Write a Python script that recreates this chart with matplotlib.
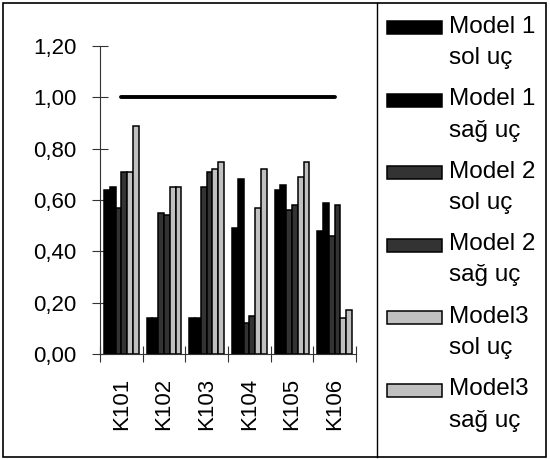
import matplotlib
matplotlib.use("Agg")
import matplotlib.pyplot as plt
from matplotlib.patches import Rectangle
from matplotlib.lines import Line2D
import numpy as np

plt.rcParams['font.family'] = ['Liberation Sans', 'DejaVu Sans']

categories = ['K101', 'K102', 'K103', 'K104', 'K105', 'K106']
series_labels = ['Model 1\nsol uç', 'Model 1\nsağ uç', 'Model 2\nsol uç',
                 'Model 2\nsağ uç', 'Model3\nsol uç', 'Model3\nsağ uç']
m1_sol = [0.64, 0.14, 0.14, 0.49, 0.64, 0.48]
m1_sag = [0.65, 0.14, 0.14, 0.68, 0.66, 0.59]
m2_sol = [0.57, 0.55, 0.65, 0.12, 0.56, 0.46]
m2_sag = [0.71, 0.54, 0.71, 0.15, 0.58, 0.58]
m3_sol = [0.71, 0.65, 0.72, 0.57, 0.69, 0.14]
m3_sag = [0.89, 0.65, 0.75, 0.72, 0.75, 0.17]
reference = [1.00, 1.00, 1.00, 1.00, 1.00, 1.00]
yticks = [0.0, 0.2, 0.4, 0.6, 0.8, 1.0, 1.2]
ytick_labels = ['0,00', '0,20', '0,40', '0,60', '0,80', '1,00', '1,20']

series = [m1_sol, m1_sag, m2_sol, m2_sag, m3_sol, m3_sag]
colors = ['#000000', '#000000', '#333333', '#333333', '#c0c0c0', '#c0c0c0']

W, H = 550, 459
fig = plt.figure(figsize=(W / 100, H / 100), dpi=100)
ax = fig.add_axes([100 / W, 1 - 354 / H, 256 / W, 308 / H])

x = np.arange(len(categories))
n = len(series)
bw = 0.82 / n
for i, (vals, c) in enumerate(zip(series, colors)):
    ax.bar(x + (i - (n - 1) / 2) * bw, vals, width=bw, color=c,
           edgecolor='black', linewidth=1.1, zorder=2)

ax.plot(x, reference, color='black', linewidth=2.8, zorder=3,
        solid_capstyle='round')

ax.set_xlim(-0.5, len(categories) - 0.5)
ax.set_ylim(0, 1.2)
ax.set_axisbelow(True)
for s in ['top', 'right']:
    ax.spines[s].set_visible(False)
for s in ['left', 'bottom']:
    ax.spines[s].set_linewidth(0.8)
    ax.spines[s].set_color('#333333')
    ax.spines[s].set_zorder(4)

ax.set_yticks(yticks)
ax.set_yticklabels(ytick_labels, fontsize=16)
ax.tick_params(axis='y', direction='inout', length=11.5, width=0.8,
               pad=11, color='#333333')

ax.set_xticks(x)
ax.set_xticklabels(categories, rotation=90, fontsize=16)
ax.tick_params(axis='x', which='major', length=0, pad=17)
ax.set_xticks(np.arange(len(categories) + 1) - 0.5, minor=True)
ax.tick_params(axis='x', which='minor', direction='inout', length=11.5,
               width=0.8, color='#333333')

# legend (manual, Excel-style)
step = 72.5
for i, (lab, c) in enumerate(zip(series_labels, colors)):
    y0 = 21 + i * step
    fig.add_artist(Rectangle((387 / W, 1 - (y0 + 13) / H), 55 / W, 13 / H,
                             transform=fig.transFigure, facecolor=c,
                             edgecolor='black', linewidth=1.1))
    l1, l2 = lab.split('\n')
    fig.text(449 / W, 1 - (32.7 + i * step) / H, l1, fontsize=17.5,
             va='baseline', ha='left')
    fig.text(449 / W, 1 - (64 + i * step) / H, l2, fontsize=17.5,
             va='baseline', ha='left')

# outer border and divider
fig.add_artist(Rectangle((2.5 / W, 1 - 457 / H), 543.5 / W, 454 / H,
                         transform=fig.transFigure, fill=False,
                         edgecolor='black', linewidth=1.2))
fig.add_artist(Line2D([376.5 / W, 376.5 / W], [1 - 457 / H, 1 - 3 / H],
                      transform=fig.transFigure, color='black', linewidth=1.0))

fig.savefig('out.png', dpi=100)
